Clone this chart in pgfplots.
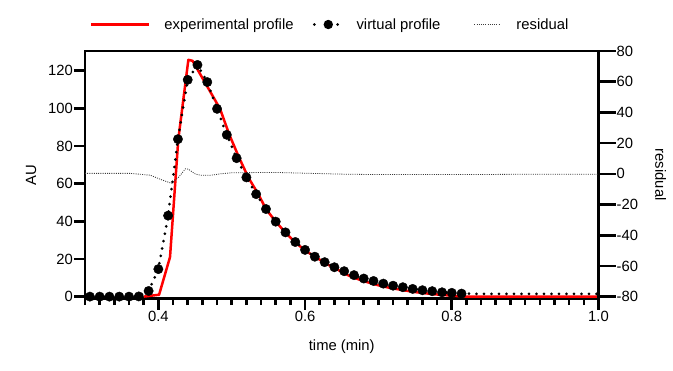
\documentclass[border=0pt]{standalone}
\usepackage{fontspec}
\setmainfont{Liberation Sans}
\usepackage{pgfplots}
\pgfplotsset{compat=1.18}
\definecolor{expred}{RGB}{255,0,0}
\definecolor{resgray}{RGB}{60,60,60}
\newcommand{\chartfont}{\fontsize{14.8bp}{17bp}\selectfont}
\pgfplotsset{
 basestyle/.style={
   at={(0,0)}, anchor=south west,
   scale only axis, width=513.5bp, height=247.5bp,
   xmin=0.3, xmax=1.0,
   axis line style={line width=2.6bp, line cap=rect},
   tick style={line width=2.6bp, black},
   tick align=outside,
   major tick length=11bp, minor tick length=6.5bp,
   ticklabel style={font=\chartfont, inner sep=1bp},
   label style={font=\chartfont},
   /pgf/number format/assume math mode=true,
 }}
\begin{document}
\begin{tikzpicture}
\begin{axis}[basestyle,
  ymin=-1, ymax=130.4,
  xtick={0.4,0.6,0.8,1.0}, xticklabels={0.4,0.6,0.8,1.0},
  minor xtick={0.3,0.32,0.34,0.36,0.38,0.42,0.44,0.46,0.48,0.5,0.52,0.54,0.56,0.58,0.62,0.64,0.66,0.68,0.7,0.72,0.74,0.76,0.78,0.82,0.84,0.86,0.88,0.9,0.92,0.94,0.96,0.98},
  ytick={0,20,40,60,80,100,120},
  xtick pos=left, ytick pos=left,
  xlabel={time (min)}, ylabel={AU},
  xlabel style={at={(axis description cs:0.5,-0.196)}, anchor=center},
  ylabel style={at={(axis description cs:-0.105,0.5)}, anchor=center},
  legend columns=3,
  legend style={draw=none, fill=none, inner sep=0pt, column sep=0pt,
    at={(axis description cs:0.0097,1.107)}, anchor=west,
    font=\chartfont, nodes={inner sep=0pt}, cells={anchor=center}},
]
% experimental profile
\addplot[expred, line width=2.5bp, line join=round,
  legend image code/.code={\path[draw=none] (0bp,0bp) -- (73bp,0bp); \draw[expred, solid, line width=2.5bp] (0bp,0bp) -- (58bp,0bp);}]
 coordinates {
 (0.380,0) (0.401,1.0) (0.4159,21) (0.4272,83.5) (0.4409,125.7) (0.4466,125.2)
 (0.4841,99.7) (0.4968,85.9) (0.5104,73.5) (0.5227,63.2) (0.5363,54.4)
 (0.5467,46.5) (0.5600,39.8) (0.5733,34.0) (0.5867,28.8) (0.6000,24.5)
 (0.6150,20.8) (0.6300,17.2) (0.6450,14.2) (0.6614,10.8) (0.6800,8.2)
 (0.7000,6.0) (0.7150,4.7) (0.7296,3.7) (0.7500,2.4) (0.7746,1.3)
 (0.7900,0.8) (0.8073,0.3) (0.8200,0) (1.0,0)
 };
\addlegendentry{experimental profile}
% virtual profile (dotted line)
\addplot[black, line width=3bp, line cap=round, dash pattern=on 0bp off 7.5bp,
  legend image code/.code={\path[draw=none] (-20.7bp,0bp) -- (42.3bp,0bp);
    \draw[black, line width=3bp, line cap=round, dash pattern=on 0bp off 11.65bp] (0bp,0bp) -- (23.3bp,0bp);
    \fill[black, draw=none, solid] (14bp,0bp) circle (4.7bp);}]
 coordinates {
 (0.3067,0) (0.3200,0) (0.3333,0) (0.3467,0) (0.3600,0) (0.3733,0.1)
 (0.3867,3.0) (0.4000,14.6) (0.4133,43.0) (0.4267,83.6) (0.4400,115.1)
 (0.4533,123.0) (0.4667,113.9) (0.4800,99.7) (0.4933,85.9) (0.5067,73.5)
 (0.5200,63.3) (0.5333,54.4) (0.5467,46.5) (0.5600,39.8) (0.5733,34.1)
 (0.5867,29.0) (0.6000,24.8) (0.6133,21.2) (0.6267,18.3) (0.6400,15.6)
 (0.6533,13.5) (0.6667,11.4) (0.6800,9.6) (0.6933,8.3) (0.7067,6.9)
 (0.7200,5.8) (0.7333,5.0) (0.7467,4.1) (0.7600,3.4) (0.7733,2.9)
 (0.7867,2.3) (0.8000,2.0) (0.8133,1.6) (0.8600,1.4) (0.9300,1.4) (1.0,1.4)
 };
\addlegendentry{virtual profile}
% virtual profile (circles)
\addplot[only marks, mark=*, mark size=4.7bp, black, forget plot]
 coordinates {
 (0.3067,0) (0.3200,0) (0.3333,0) (0.3467,0) (0.3600,0) (0.3733,0.1)
 (0.3867,3.0) (0.4000,14.6) (0.4133,43.0) (0.4267,83.6) (0.4400,115.1)
 (0.4533,123.0) (0.4667,113.9) (0.4800,99.7) (0.4933,85.9) (0.5067,73.5)
 (0.5200,63.3) (0.5333,54.4) (0.5467,46.5) (0.5600,39.8) (0.5733,34.1)
 (0.5867,29.0) (0.6000,24.8) (0.6133,21.2) (0.6267,18.3) (0.6400,15.6)
 (0.6533,13.5) (0.6667,11.4) (0.6800,9.6) (0.6933,8.3) (0.7067,6.9)
 (0.7200,5.8) (0.7333,5.0) (0.7467,4.1) (0.7600,3.4) (0.7733,2.9)
 (0.7867,2.3) (0.8000,2.0) (0.8133,1.6)
 };
\addlegendimage{legend image code/.code={\path[draw=none] (-34bp,0bp) -- (42bp,0bp);
    \draw[resgray, line width=0.8bp, dash pattern=on 1bp off 1.2bp] (0bp,0bp) -- (25bp,0bp);}}
\addlegendentry{residual}
\end{axis}
\begin{axis}[basestyle,
  axis x line=none, axis y line*=right,
  ymin=-81.2, ymax=80,
  ytick={-80,-60,-40,-20,0,20,40,60,80},
  major tick length=17bp,
  ylabel={residual},
  ylabel style={at={(axis description cs:1.121,0.5)}, anchor=center, rotate=180},
]
\addplot[resgray, line width=0.8bp, dash pattern=on 1bp off 1.2bp]
 coordinates {
 (0.300,0.3) (0.362,0.3) (0.389,-0.9) (0.405,-4) (0.418,-6.2) (0.428,-2)
 (0.437,3.3) (0.441,3.0) (0.450,0) (0.457,-0.9) (0.470,-1.0) (0.485,0.0)
 (0.500,0.7) (0.560,0.9) (0.600,0.4) (0.650,-0.2) (0.700,-0.5) (0.800,-0.5)
 (0.900,-0.3) (1.000,-0.3)
 };
\end{axis}
\pgfresetboundingbox
\path (-85bp,-72.5bp) rectangle (588bp,298.5bp);
\end{tikzpicture}
\end{document}
